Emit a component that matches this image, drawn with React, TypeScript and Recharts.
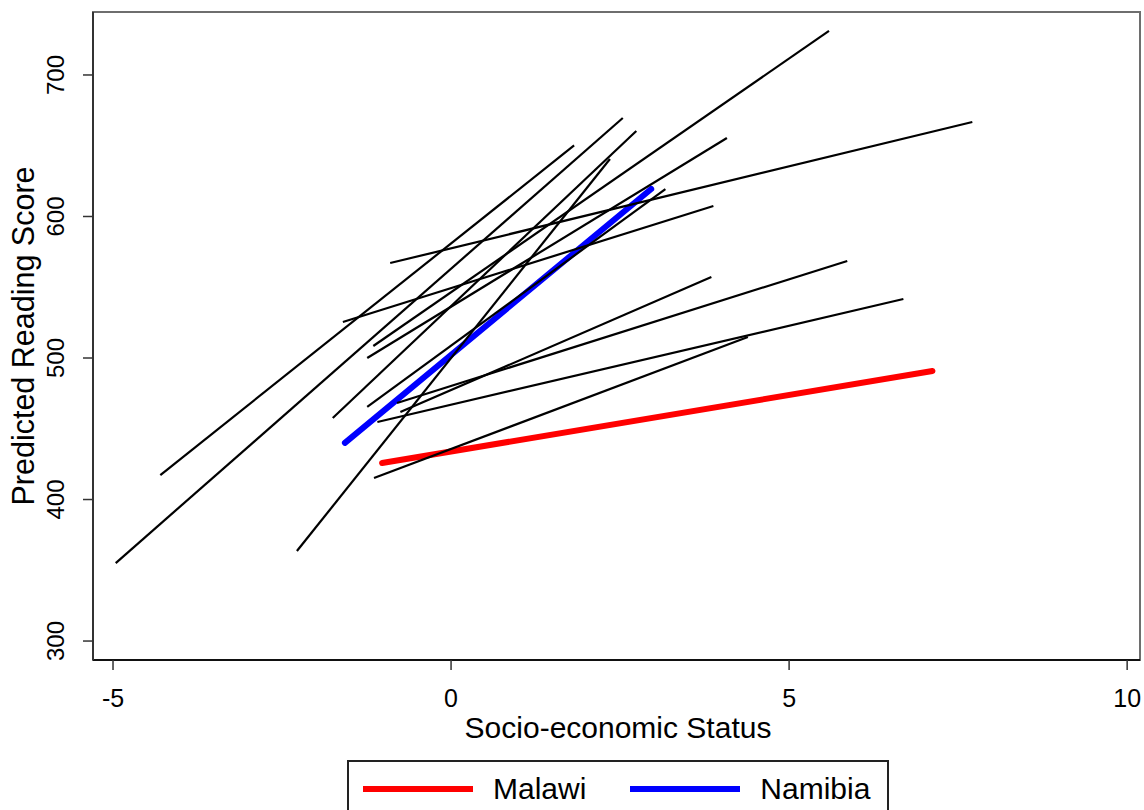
import { LineChart, Line, XAxis, YAxis, ReferenceArea } from "recharts";

// per-school fitted lines: SES range and predicted scores at each end
const sesStart = [-4.96, -4.3, -1.75, -1.15, -1.24, -1.24, -1.6, -0.9, -2.28, -0.8, -1.09, -1.14, -0.75];
const sesEnd = [2.54, 1.82, 2.74, 5.59, 4.08, 3.17, 3.88, 7.71, 2.35, 5.86, 6.69, 4.39, 3.85];
const scoreStart = [355.1, 417.3, 457.6, 508.5, 500.0, 465.4, 525.4, 567.1, 363.6, 468.2, 454.8, 415.2, 461.8];
const scoreEnd = [669.6, 650.2, 660.4, 731.1, 655.5, 619.4, 607.4, 666.8, 640.6, 568.6, 541.7, 514.8, 557.2];

const malawiSes = [-1.02, 7.12];
const malawiScore = [425.8, 490.8];
const namibiaSes = [-1.57, 2.96];
const namibiaScore = [440.0, 619.4];

const xTicks = [-5, 0, 5, 10];
const yTicks = [300, 400, 500, 600, 700];
const xDomain = [-5.296, 10.19];
const yDomain = [286.6, 744.5];

const legendItems = [
  { name: "Malawi", color: "#ff0000" },
  { name: "Namibia", color: "#0000ff" },
];

const FONT = '"Liberation Sans", Arial, sans-serif';

const toPoints = (xs: number[], ys: number[]) => xs.map((x, i) => ({ ses: x, score: ys[i] }));

const schoolLines = sesStart.map((x, i) => toPoints([x, sesEnd[i]], [scoreStart[i], scoreEnd[i]]));
const malawi = toPoints(malawiSes, malawiScore);
const namibia = toPoints(namibiaSes, namibiaScore);

const XTick = (props: any) => {
  const { x, payload } = props;
  return (
    <text x={x} y={707} textAnchor="middle" fontSize={25} fill="#000" fontFamily={FONT}>
      {payload.value}
    </text>
  );
};

const YTick = (props: any) => {
  const { y, payload } = props;
  return (
    <text x={64} y={y} transform={`rotate(-90, 64, ${y})`} textAnchor="middle" fontSize={24} fill="#000" fontFamily={FONT}>
      {payload.value}
    </text>
  );
};

const XTitle = () => (
  <text x={618} y={738} textAnchor="middle" fontSize={30} fill="#000" fontFamily={FONT}>
    Socio-economic Status
  </text>
);

const YTitle = () => (
  <text x={34} y={336} transform="rotate(-90, 34, 336)" textAnchor="middle" fontSize={30.5} fill="#000" fontFamily={FONT}>
    Predicted Reading Score
  </text>
);

export default function App() {
  return (
    <div style={{ position: "absolute", left: 0, top: 0, width: 1144, height: 810, background: "#fff", overflow: "hidden" }}>
      <LineChart width={1144} height={810} margin={{ top: 12, right: 4, bottom: 0, left: 0 }}>
        <ReferenceArea
          x1={xDomain[0]}
          x2={xDomain[1]}
          y1={yDomain[0]}
          y2={yDomain[1]}
          fill="none"
          fillOpacity={0}
          stroke="#6e6e6e"
          strokeWidth={2}
          ifOverflow="visible"
        />
        <XAxis
          dataKey="ses"
          type="number"
          domain={xDomain}
          ticks={xTicks}
          interval={0}
          allowDataOverflow
          height={150}
          tickSize={10}
          axisLine={{ stroke: "#111", strokeWidth: 2 }}
          tickLine={{ stroke: "#333", strokeWidth: 1.5 }}
          tick={<XTick />}
          label={<XTitle />}
        />
        <YAxis
          dataKey="score"
          type="number"
          domain={yDomain}
          ticks={yTicks}
          interval={0}
          allowDataOverflow
          width={93}
          tickSize={10}
          axisLine={{ stroke: "#333", strokeWidth: 2 }}
          tickLine={{ stroke: "#333", strokeWidth: 1.5 }}
          tick={<YTick />}
          label={<YTitle />}
        />
        <Line data={malawi} dataKey="score" stroke="#ff0000" strokeWidth={6} strokeLinecap="round" dot={false} isAnimationActive={false} legendType="none" />
        <Line data={namibia} dataKey="score" stroke="#0000ff" strokeWidth={6} strokeLinecap="round" dot={false} isAnimationActive={false} legendType="none" />
        {schoolLines.map((pts, i) => (
          <Line key={i} data={pts} dataKey="score" stroke="#000" strokeWidth={2.2} dot={false} isAnimationActive={false} legendType="none" />
        ))}
      </LineChart>
      <div
        style={{
          position: "absolute",
          left: 347,
          top: 760,
          width: 542,
          height: 80,
          border: "2px solid #222",
          boxSizing: "border-box",
          display: "flex",
          alignItems: "flex-start",
          paddingLeft: 14,
          paddingTop: 10,
          fontFamily: FONT,
          fontSize: 30,
          color: "#000",
        }}
      >
        {legendItems.map((item) => (
          <div key={item.name} style={{ display: "flex", alignItems: "center", marginRight: 44, height: 34 }}>
            <div style={{ width: 110, height: 6, background: item.color, marginRight: 20 }} />
            <span>{item.name}</span>
          </div>
        ))}
      </div>
    </div>
  );
}
